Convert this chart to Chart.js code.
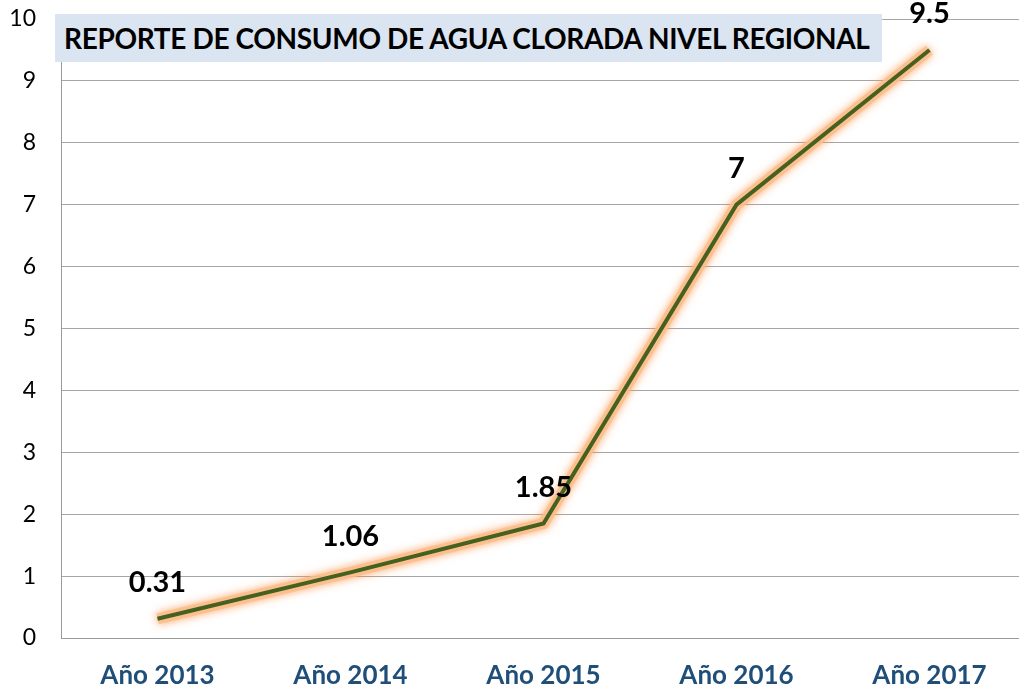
<!DOCTYPE html>
<html>
<head>
<meta charset="utf-8">
<script src="https://cdn.jsdelivr.net/npm/chart.js@4/dist/chart.umd.min.js"></script>
<style>
  html, body { margin: 0; padding: 0; background: #fff; overflow: hidden; }
  #wrap { position: relative; width: 1026px; height: 688px; }
  #title {
    position: absolute; left: 55px; top: 14px; width: 827px; height: 48px;
    background: #dbe4f1; box-sizing: border-box;
    font-family: Lato, "Open Sans", sans-serif; font-weight: 700; font-size: 28px;
    color: #000; line-height: 48px; white-space: nowrap; padding-left: 9px;
    letter-spacing: -0.35px;
  }
</style>
</head>
<body>
<div id="wrap">
  <canvas id="c" width="1026" height="688"></canvas>
  <div id="title">REPORTE DE CONSUMO DE AGUA CLORADA NIVEL REGIONAL</div>
</div>
<script>
const categories = ["Año 2013", "Año 2014", "Año 2015", "Año 2016", "Año 2017"];
const consumo = [0.31, 1.06, 1.85, 7, 9.5];
const valueLabels = ["0.31", "1.06", "1.85", "7", "9.5"];
const yTicks = [0, 1, 2, 3, 4, 5, 6, 7, 8, 9, 10];

const glow = {
  id: 'glow',
  beforeDatasetDraw(chart, args) {
    const ctx = chart.ctx;
    ctx.save();
    if (args.index === 1) {
      ctx.shadowColor = 'rgba(250,140,60,0.9)';
      ctx.shadowBlur = 9;
    }
  },
  afterDatasetDraw(chart) { chart.ctx.restore(); }
};

const labelsPlugin = {
  id: 'vlabels',
  afterDatasetsDraw(chart) {
    const ctx = chart.ctx;
    const meta = chart.getDatasetMeta(0);
    ctx.save();
    ctx.font = 'bold 29px Lato, "Open Sans", sans-serif';
    ctx.fillStyle = '#000';
    ctx.textAlign = 'center';
    ctx.textBaseline = 'middle';
    meta.data.forEach((pt, i) => {
      ctx.fillText(valueLabels[i], pt.x, pt.y - 36);
    });
    ctx.restore();
  }
};

new Chart(document.getElementById('c'), {
  type: 'line',
  data: {
    labels: categories,
    datasets: [{
      data: consumo,
      borderColor: '#45601f',
      borderWidth: 4,
      pointRadius: 0,
      tension: 0,
      fill: false,
      order: 0
    }, {
      data: consumo,
      borderColor: 'rgba(251,190,140,0.85)',
      borderWidth: 11,
      pointRadius: 0,
      tension: 0,
      fill: false,
      order: 1
    }]
  },
  options: {
    responsive: false,
    animation: false,
    layout: { padding: 0 },
    plugins: { legend: { display: false }, tooltip: { enabled: false }, title: { display: false } },
    scales: {
      x: {
        offset: true,
        grid: { display: false, drawTicks: false },
        border: { color: '#9a9a9a', width: 1 },
        ticks: {
          color: '#1f4e79',
          font: { family: 'Lato, "Open Sans", sans-serif', size: 26, weight: 'bold' },
          padding: 22,
          maxRotation: 0
        },
        afterFit(s) { s.height = 50; }
      },
      y: {
        min: 0, max: 10,
        afterBuildTicks(s) { s.ticks = yTicks.map(v => ({ value: v })); },
        grid: { color: '#a6a6a6', lineWidth: 1, drawTicks: false },
        border: { color: '#9a9a9a', width: 1 },
        ticks: {
          color: '#000',
          font: { family: 'Lato, "Open Sans", sans-serif', size: 23 },
          padding: 25
        },
        afterFit(s) { s.width = 61; s.paddingTop = 19; s.paddingBottom = 0; }
      }
    }
  },
  plugins: [glow, labelsPlugin]
});
</script>
</body>
</html>
